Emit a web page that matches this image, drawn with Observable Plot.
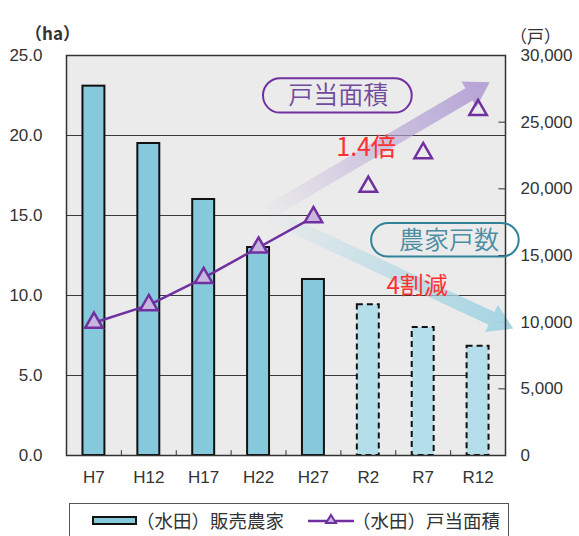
<!DOCTYPE html>
<html>
<head>
<meta charset="utf-8">
<script src="https://cdn.jsdelivr.net/npm/d3@7"></script>
<script src="https://cdn.jsdelivr.net/npm/@observablehq/plot@0.6"></script>
<style>
  body { margin: 0; background: #fff; font-family: "Liberation Sans", "Noto Sans CJK JP", sans-serif; }
  #wrap { position: relative; width: 579px; height: 536px; overflow: hidden; }
  #legend { position: absolute; left: 69px; top: 503px; width: 440px; height: 40px; border: 1.5px solid #555; background: #fff; box-sizing: border-box; }
  #legend .t { position: absolute; top: 2px; font-family: "Noto Sans CJK JP", sans-serif; font-size: 18.5px; color: #333; line-height: 28px; white-space: nowrap; }
</style>
</head>
<body>
<div id="wrap">
  <div id="chart"></div>
  <div id="legend">
    <div style="position:absolute;left:22px;top:12px;width:45px;height:9px;border:2px solid #111;background:#86c9dc;box-sizing:border-box;"></div>
    <div class="t" style="left:66px;">（水田）販売農家</div>
    <svg style="position:absolute;left:238px;top:6px;" width="46" height="20">
      <line x1="0" y1="11" x2="46" y2="11" stroke="#7030a0" stroke-width="2.5"/>
      <path d="M23,5 L28,13 L18,13 Z" fill="#c9b6de" stroke="#7030a0" stroke-width="2"/>
    </svg>
    <div class="t" style="left:282px;">（水田）戸当面積</div>
  </div>
</div>
<script>
// ---- data ----
const years = ["H7", "H12", "H17", "H22", "H27", "R2", "R7", "R12"];
const farms = [27700, 23400, 19200, 15600, 13200, 11300, 9600, 8200];      // 販売農家 (戸)
const areaPerFarm = [8.3, 9.4, 11.1, 13.0, 14.9, 16.8, 18.9, 21.6];         // 戸当面積 (ha)
const projected = [false, false, false, false, false, true, true, true];
const leftTicks = [0, 5, 10, 15, 20, 25];
const rightTicks = [0, 5000, 10000, 15000, 20000, 25000, 30000];
const FARMS_PER_HA_UNIT = 30000 / 25; // right axis max / left axis max

const data = years.map((year, i) => ({
  i, year, farms: farms[i], area: areaPerFarm[i], projected: projected[i]
}));
const actual = data.filter(d => !d.projected);
const future = data.filter(d => d.projected);

const FONT = "Liberation Sans, Noto Sans CJK JP, sans-serif";
const CJK = "Noto Sans CJK JP, sans-serif";

// gradient arrows drawn through Plot's scales
const arrows = [
  {id: "gp", x1: 3.15, y1: 15.1, x2: 7.22, y2: 23.3, color: "#b5a3d5", w: 14, hw: 30, hl: 24},
  {id: "gt", x1: 3.15, y1: 15.1, x2: 7.65, y2: 7.9, color: "#a4d4e3", w: 14, hw: 30, hl: 24}
];
function arrowMark(index, scales) {
  const X = scales.x, Y = scales.y;
  const g = d3.create("svg:g");
  const defs = g.append("defs");
  for (const a of arrows) {
    const x1 = X(a.x1), y1 = Y(a.y1), x2 = X(a.x2), y2 = Y(a.y2);
    const grad = defs.append("linearGradient").attr("id", a.id)
      .attr("gradientUnits", "userSpaceOnUse")
      .attr("x1", x1).attr("y1", y1).attr("x2", x2).attr("y2", y2);
    grad.append("stop").attr("offset", 0).attr("stop-color", a.color).attr("stop-opacity", 0);
    grad.append("stop").attr("offset", 0.4).attr("stop-color", a.color).attr("stop-opacity", 0.45);
    grad.append("stop").attr("offset", 1).attr("stop-color", a.color).attr("stop-opacity", 1);
    const dx = x2 - x1, dy = y2 - y1, L = Math.hypot(dx, dy);
    const ux = dx / L, uy = dy / L, nx = -uy, ny = ux;
    const bx = x2 - ux * a.hl, by = y2 - uy * a.hl;
    const pts = [
      [x1 + nx * a.w / 2, y1 + ny * a.w / 2],
      [bx + nx * a.w / 2, by + ny * a.w / 2],
      [bx + nx * a.hw / 2, by + ny * a.hw / 2],
      [x2, y2],
      [bx - nx * a.hw / 2, by - ny * a.hw / 2],
      [bx - nx * a.w / 2, by - ny * a.w / 2],
      [x1 - nx * a.w / 2, y1 - ny * a.w / 2]
    ];
    g.append("polygon").attr("points", pts.map(p => p.join(",")).join(" "))
      .attr("fill", `url(#${a.id})`);
  }
  return g.node();
}

const chart = Plot.plot({
  width: 579,
  height: 496,
  marginTop: 55,
  marginBottom: 41,
  marginLeft: 66,
  marginRight: 74,
  style: {fontFamily: FONT, background: "transparent", overflow: "visible"},
  x: {type: "linear", domain: [-0.5, 7.5], axis: null},
  y: {domain: [0, 25], axis: null},
  marks: [
    Plot.frame({fill: "#ebebeb"}),
    Plot.ruleY(leftTicks.filter(t => t > 0 && t < 25), {stroke: "#3a3a3a", strokeWidth: 1.2}),
    // inner category tick marks on the x axis
    Plot.ruleX(d3.range(years.length - 1), {x: i => i + 0.5, y1: 0, y2: 0.3, stroke: "#333"}),
    // inner ticks on the right axis
    Plot.ruleY(rightTicks, {y: d => d / FARMS_PER_HA_UNIT, x1: 7.38, x2: 7.5, stroke: "#333"}),
    arrowMark,
    Plot.rectY(actual, {x1: d => d.i - 0.2, x2: d => d.i + 0.2, y1: 0, y2: d => d.farms / FARMS_PER_HA_UNIT,
      fill: "#86c9dc", stroke: "#111", strokeWidth: 2}),
    Plot.rectY(future, {x1: d => d.i - 0.2, x2: d => d.i + 0.2, y1: 0, y2: d => d.farms / FARMS_PER_HA_UNIT,
      fill: "#b3deea", stroke: "#111", strokeWidth: 2, strokeDasharray: "6,4"}),
    Plot.frame({stroke: "#333", strokeWidth: 1.5}),
    Plot.line(actual, {x: "i", y: "area", stroke: "#7030a0", strokeWidth: 2.5}),
    Plot.dot(actual, {x: "i", y: "area", symbol: "triangle", r: 6.5, fill: "#c9b6de", stroke: "#7030a0", strokeWidth: 2.5}),
    Plot.dot(future, {x: "i", y: "area", symbol: "triangle", r: 6.5, fill: "none", stroke: "#7030a0", strokeWidth: 2.5}),
    // annotation boxes
    Plot.rect([{x1: 3.09, x2: 5.80, y1: 21.4, y2: 23.55}], {x1: "x1", x2: "x2", y1: "y1", y2: "y2",
      rx: 17, fill: "none", stroke: "#7030a0", strokeWidth: 2}),
    Plot.text(["戸当面積"], {x: 4.45, y: 22.45, fontSize: 25, fontWeight: 350, fill: "#6f4a9e", fontFamily: CJK}),
    Plot.rect([{x1: 5.06, x2: 7.75, y1: 12.4, y2: 14.5}], {x1: "x1", x2: "x2", y1: "y1", y2: "y2",
      rx: 17, fill: "none", stroke: "#2f8298", strokeWidth: 2}),
    Plot.text(["農家戸数"], {x: 6.47, y: 13.4, fontSize: 25, fontWeight: 350, fill: "#4b8da3", fontFamily: CJK}),
    Plot.text(["1.4倍"], {x: 4.96, y: 19.2, fontSize: 25, fontWeight: 400, fill: "#ff3030", fontFamily: CJK}),
    Plot.text(["4割減"], {x: 5.89, y: 10.6, fontSize: 24, fontWeight: 400, fill: "#ff3030", fontFamily: CJK}),
    // axes
    Plot.axisY({anchor: "left", ticks: leftTicks, tickFormat: d => d.toFixed(1), tickSize: 0, tickPadding: 24,
      fontSize: 17, fill: "#333", label: null}),
    Plot.axisY({anchor: "right", ticks: rightTicks.map(d => d / FARMS_PER_HA_UNIT),
      tickFormat: d => d3.format(",")(Math.round(d * FARMS_PER_HA_UNIT)), tickSize: 0, tickPadding: 15,
      fontSize: 17, fill: "#333", label: null}),
    Plot.axisX({ticks: d3.range(years.length), tickFormat: i => years[i], tickSize: 0, tickPadding: 15,
      fontSize: 17, fill: "#333", label: null}),
    Plot.text(["（ha）"], {frameAnchor: "top-left", textAnchor: "middle", dx: -14, dy: -28, fontSize: 17, fontWeight: "bold", fill: "#333", fontFamily: CJK}),
    Plot.text(["（戸）"], {frameAnchor: "top-right", textAnchor: "middle", dx: 30, dy: -25, fontSize: 17, fill: "#333", fontFamily: CJK})
  ]
});
document.getElementById("chart").appendChild(chart);
</script>
</body>
</html>
